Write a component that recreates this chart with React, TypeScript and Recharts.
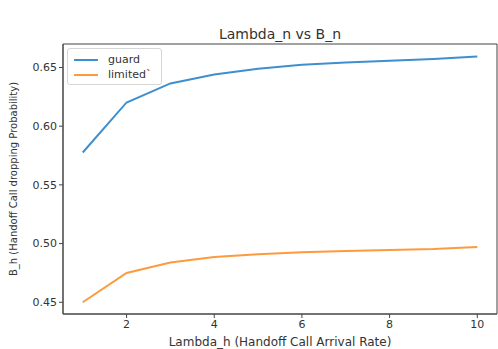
import React from 'react';
import { LineChart, Line, XAxis, YAxis, ReferenceArea } from 'recharts';

// arrival rate (x) and blocking probability for the two schemes
const lambdaH = [1, 2, 3, 4, 5, 6, 7, 8, 9, 10];
const guard = [0.5776, 0.6202, 0.6364, 0.644, 0.6489, 0.6523, 0.6542, 0.6558, 0.6572, 0.6594];
const limited = [0.45, 0.475, 0.4838, 0.4886, 0.491, 0.4925, 0.4937, 0.4946, 0.4953, 0.4971];
const xTicks = [2, 4, 6, 8, 10];
const yTicks = [0.45, 0.5, 0.55, 0.6, 0.65];
const xDomain = [0.55, 10.45];
const yDomain = [0.44, 0.67];

const data = lambdaH.map((x, i) => ({ x, guard: guard[i], limited: limited[i] }));

const FONT = '"DejaVu Sans", sans-serif';
const AXIS = '#444';
const BLUE = '#3f8fce';
const ORANGE = '#fd9a3e';

const series = [
  { key: 'guard', name: 'guard', color: BLUE },
  { key: 'limited', name: 'limited`', color: ORANGE },
];

const LegendBox = () => (
  <div
    style={{
      position: 'absolute',
      left: 67,
      top: 48,
      border: '1px solid #d6d6d6',
      borderRadius: 3,
      background: 'rgba(255,255,255,0.85)',
      padding: '3px 10px 2px 6px',
      fontFamily: FONT,
      fontSize: 11,
      color: '#333',
      lineHeight: '15px',
    }}
  >
    {series.map((e) => (
      <div key={e.key} style={{ display: 'flex', alignItems: 'center' }}>
        <span style={{ display: 'inline-block', width: 24, height: 2, background: e.color, marginRight: 10 }} />
        <span>{e.name}</span>
      </div>
    ))}
  </div>
);

export default function App() {
  return (
    <div style={{ position: 'absolute', left: 0, top: 0, width: 498, height: 349, background: '#fff' }}>
      <div
        style={{
          position: 'absolute',
          left: 63,
          width: 434,
          top: 26,
          textAlign: 'center',
          fontFamily: FONT,
          fontSize: 14,
          color: '#333',
        }}
      >
        Lambda_n vs B_n
      </div>
      <LineChart width={498} height={349} data={data} margin={{ top: 44, right: 1, bottom: 0, left: 8 }}>
        <XAxis
          dataKey="x"
          type="number"
          domain={xDomain}
          ticks={xTicks}
          allowDataOverflow
          height={35}
          stroke={AXIS}
          tickSize={4}
          tick={{ fill: '#333', fontSize: 11, fontFamily: FONT }}
          label={{
            value: 'Lambda_h (Handoff Call Arrival Rate)',
            position: 'insideBottom',
            offset: 3,
            fill: '#333',
            fontSize: 12,
            fontFamily: FONT,
          }}
        />
        <YAxis
          type="number"
          domain={yDomain}
          ticks={yTicks}
          allowDataOverflow
          width={55}
          stroke={AXIS}
          tickSize={4}
          tickFormatter={(v: number) => v.toFixed(2)}
          tick={{ fill: '#333', fontSize: 11, fontFamily: FONT }}
          label={{
            value: 'B_h (Handoff Call dropping Probability)',
            angle: -90,
            position: 'insideLeft',
            offset: 5,
            fill: '#333',
            fontSize: 10,
            fontFamily: FONT,
            style: { textAnchor: 'middle' },
          }}
        />
        <ReferenceArea
          x1={xDomain[0]}
          x2={xDomain[1]}
          y1={yDomain[0]}
          y2={yDomain[1]}
          fill="none"
          stroke={AXIS}
          strokeWidth={1}
          ifOverflow="visible"
        />
        {series.map((s) => (
          <Line key={s.key} dataKey={s.key} stroke={s.color} strokeWidth={2} dot={false} isAnimationActive={false} />
        ))}
      </LineChart>
      <LegendBox />
    </div>
  );
}
